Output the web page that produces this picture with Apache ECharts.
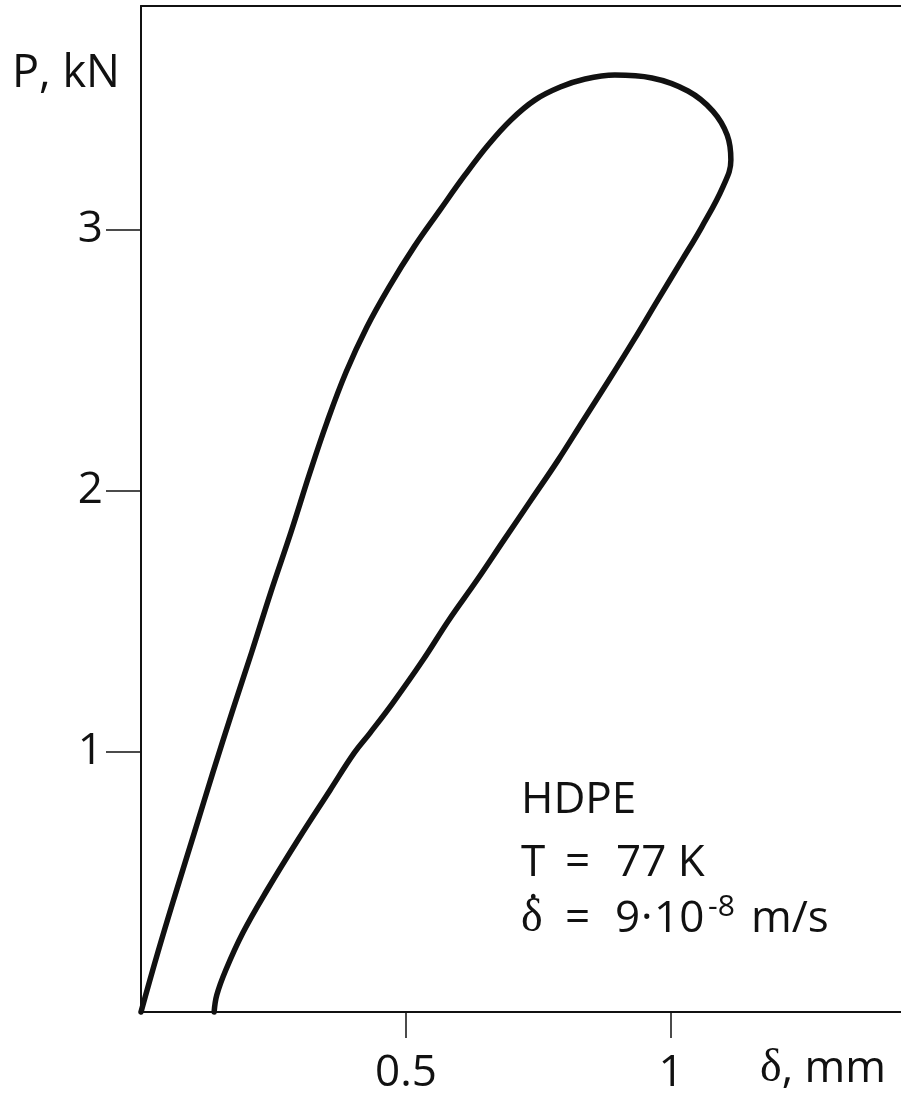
<!DOCTYPE html>
<html>
<head>
<meta charset="utf-8">
<script src="https://cdn.jsdelivr.net/npm/echarts@6/dist/echarts.min.js"></script>
<style>
  html, body { margin: 0; padding: 0; background: #fff; }
  #chart { width: 901px; height: 1096px; }
</style>
</head>
<body>
<div id="chart"></div>
<script>
// Load–displacement loop for HDPE at 77 K: loading branch up to the peak, then unloading
const deltaMm = [
  0.000, 0.032, 0.066, 0.101, 0.136, 0.172, 0.209, 0.245, 0.283, 0.319,
  0.351, 0.387, 0.426, 0.468, 0.515, 0.564, 0.611, 0.655, 0.698, 0.743,
  0.791, 0.838, 0.894, 0.964, 1.032, 1.079, 1.106, 1.113, 1.098, 1.058,
  1.021, 0.975, 0.930, 0.883, 0.835, 0.787, 0.736, 0.685, 0.634, 0.581,
  0.532, 0.475, 0.432, 0.402, 0.357, 0.296, 0.238, 0.192, 0.160, 0.143,
  0.138
];
const loadKN = [
  0.000, 0.230, 0.460, 0.690, 0.921, 1.151, 1.381, 1.611, 1.841, 2.071,
  2.263, 2.455, 2.627, 2.781, 2.934, 3.076, 3.210, 3.326, 3.422, 3.498,
  3.548, 3.579, 3.594, 3.583, 3.533, 3.456, 3.364, 3.268, 3.165, 3.011,
  2.885, 2.731, 2.578, 2.424, 2.271, 2.117, 1.964, 1.811, 1.657, 1.504,
  1.350, 1.185, 1.070, 0.993, 0.852, 0.660, 0.468, 0.303, 0.161, 0.065,
  0.000
];

const xTicks = [0.5, 1];
const yTicks = [1, 2, 3];
const xLabel = ['δ', ', mm'];
const yLabel = 'P, kN';
const noteLines = ['HDPE', 'T', '=', '77 K', 'δ', '=', '9', '·', '10', '-8', 'm/s'];

const SANS = '"Open Sans", "Noto Sans", sans-serif';
const SERIF = '"Liberation Serif", "DejaVu Serif", serif';
const INK = '#111';

const points = deltaMm.map((d, i) => [d, loadKN[i]]);

const chart = echarts.init(document.getElementById('chart'), null, { renderer: 'canvas' });

const txt = (x, y, text, size, family) => ({
  type: 'text', x: x, y: y,
  style: { text: text, fill: INK, fontSize: size, fontFamily: family, align: 'left', verticalAlign: 'middle' }
});

chart.setOption({
  backgroundColor: '#fff',
  animation: false,
  grid: { left: 141, right: 0, top: 6, bottom: 84 },
  xAxis: [{
    type: 'value', min: 0, max: 1.434, interval: 0.5,
    axisLine: { show: true, lineStyle: { color: INK, width: 2 } },
    axisTick: { show: true, customValues: xTicks, length: 26, inside: false, lineStyle: { color: INK, width: 1.5 } },
    axisLabel: { customValues: xTicks, margin: 39, color: INK, fontSize: 44, fontFamily: SANS,
      formatter: v => String(v) },
    splitLine: { show: false }
  }, {
    type: 'value', position: 'top', min: 0, max: 1.434,
    axisLine: { show: true, onZero: false, lineStyle: { color: INK, width: 2 } },
    axisTick: { show: false }, axisLabel: { show: false }, splitLine: { show: false }
  }],
  yAxis: {
    type: 'value', min: 0, max: 3.859, interval: 1,
    axisLine: { show: true, lineStyle: { color: INK, width: 2 } },
    axisTick: { show: true, customValues: yTicks, length: 35, inside: false, lineStyle: { color: INK, width: 1.5 } },
    axisLabel: { customValues: yTicks, margin: 38, color: INK, fontSize: 44, fontFamily: SANS },
    splitLine: { show: false }
  },
  series: [{
    type: 'line',
    data: points,
    smooth: 0.4,
    symbol: 'none',
    clip: false,
    lineStyle: { color: INK, width: 5.5, cap: 'round', join: 'round' }
  }],
  graphic: [
    txt(12, 74, yLabel, 45, SANS),
    {
      type: 'text', x: 760, y: 1069,
      style: {
        text: '{d|' + xLabel[0] + '}{u|' + xLabel[1] + '}',
        verticalAlign: 'middle', align: 'left',
        rich: {
          d: { fontSize: 46, fontFamily: SERIF, fill: INK },
          u: { fontSize: 44, fontFamily: SANS, fill: INK }
        }
      }
    },
    // material and test conditions
    txt(521, 800, noteLines[0], 44, SANS),
    txt(521, 863, noteLines[1], 44, SANS),
    txt(565, 863, noteLines[2], 44, SANS),
    txt(616, 863, noteLines[3], 44, SANS),
    txt(521, 919, noteLines[4], 46, SERIF),
    txt(528, 899, '·', 40, SANS),
    txt(565, 919, noteLines[5], 44, SANS),
    txt(615, 919, noteLines[6], 44, SANS),
    txt(641, 919, noteLines[7], 44, SANS),
    txt(654, 919, noteLines[8], 44, SANS),
    txt(708, 907, noteLines[9], 30, SANS),
    txt(751, 919, noteLines[10], 44, SANS)
  ]
});
</script>
</body>
</html>
